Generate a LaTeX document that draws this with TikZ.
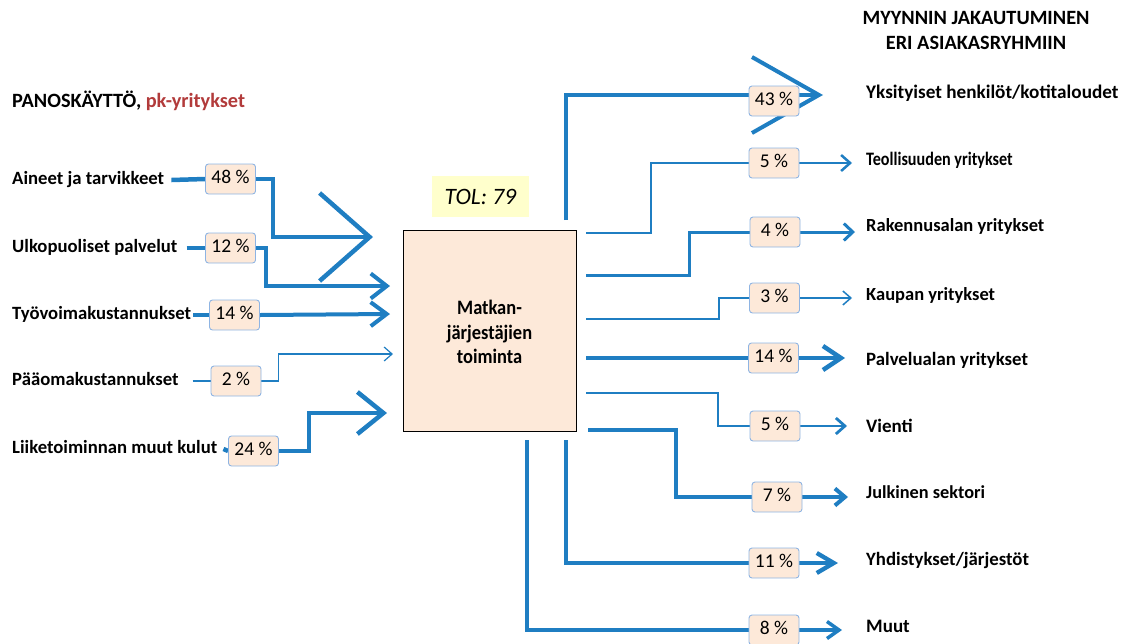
\documentclass[tikz,border=0pt]{standalone}
\usepackage{fontspec}
\usepackage{graphicx}
\setmainfont{Carlito}
\usetikzlibrary{arrows.meta}
\definecolor{flow}{HTML}{1F7EC2}
\definecolor{peach}{HTML}{FDE9D9}
\definecolor{pctedge}{HTML}{8EB4E3}
\definecolor{tolbg}{HTML}{FFFFCC}
\definecolor{redtxt}{HTML}{B23B3B}
\pgfdeclarelayer{bg}
\pgfsetlayers{bg,main}
\begin{document}
\begin{tikzpicture}[x=1pt,y=-1pt,
  lbl/.style={font=\fontsize{#1}{22}\selectfont\bfseries, anchor=west, inner xsep=0pt, text height=13pt, text depth=4pt},
  lbl/.default=18.7,
  pct/.style={draw=pctedge, line width=0.9pt, fill=peach, rounded corners=3pt, minimum width=50pt, minimum height=30pt, inner sep=0pt, font=\fontsize{19.5}{22}\selectfont, text height=13.5pt, text depth=4pt},
  fl/.style={draw=flow, line join=miter}]
\useasboundingbox (0,0) rectangle (1126,643);

% headings
\node[lbl=20.3] (h1) at (12,103) {PANOSKÄYTTÖ, \textcolor{redtxt}{pk-yritykset}};
\node[font=\fontsize{20.3}{25}\selectfont\bfseries, align=center] (h2) at (976,30.5) {MYYNNIN JAKAUTUMINEN\\ERI ASIAKASRYHMIIN};

% main box and TOL
\node[draw=black, line width=0.8pt, fill=peach, minimum width=173pt, minimum height=201pt, inner sep=0pt, font=\fontsize{20.5}{24.5}\selectfont\bfseries] (m) at (489.5,330.5) {\raisebox{-9pt}[0pt][0pt]{\scalebox{0.9}[1]{\begin{tabular}{@{}c@{}}Matkan-\\järjestäjien\\toiminta\end{tabular}}}};
\node[fill=tolbg, minimum width=97pt, minimum height=41pt, font=\fontsize{23.5}{26}\selectfont\itshape] (tol) at (480.5,196.5) {TOL: 79};

% left labels
\node[lbl] (a1) at (12,180) {Aineet ja tarvikkeet};
\node[lbl] (a2) at (12,248) {Ulkopuoliset palvelut};
\node[lbl] (a3) at (12,315) {Työvoimakustannukset};
\node[lbl] (a4) at (12,381) {Pääomakustannukset};
\node[lbl] (a5) at (12,449) {Liiketoiminnan muut kulut};

% left percentage boxes
\node[pct] (p1) at (230.5,179) {48 \%};
\node[pct] (p2) at (230.5,248) {12 \%};
\node[pct] (p3) at (234.5,315) {14 \%};
\node[pct] (p4) at (236,381) {2 \%};
\node[pct] (p5) at (253.5,451) {24 \%};

% left tips
\coordinate (t1) at (373,237);
\coordinate (t2) at (390,286);
\coordinate (t3) at (390,314);
\coordinate (t4) at (393,354);
\coordinate (t5) at (387,413);

% right labels
\node[lbl=19.2] (b1) at (866,94) {Yksityiset henkilöt/kotitaloudet};
\node[lbl=19] (b2) at (866,161) {\scalebox{0.85}[1]{Teollisuuden yritykset}};
\node[lbl=18.5] (b3) at (866,227) {Rakennusalan yritykset};
\node[lbl=18.5] (b4) at (866,296) {Kaupan yritykset};
\node[lbl=18.8] (b5) at (866,361) {Palvelualan yritykset};
\node[lbl=19] (b6) at (866,428) {Vienti};
\node[lbl=18.3] (b7) at (866,494) {Julkinen sektori};
\node[lbl=18.8] (b8) at (866,561) {Yhdistykset/järjestöt};
\node[lbl=19] (b9) at (866,628) {Muut};

% right percentage boxes
\node[pct] (q1) at (774,101) {43 \%};
\node[pct] (q2) at (774,163) {5 \%};
\node[pct] (q3) at (775,232) {4 \%};
\node[pct] (q4) at (774.5,298) {3 \%};
\node[pct] (q5) at (773.5,358) {14 \%};
\node[pct] (q6) at (775,426) {5 \%};
\node[pct] (q7) at (777,497) {7 \%};
\node[pct] (q8) at (774,563) {11 \%};
\node[pct] (q9) at (774,630) {8 \%};

% right start / tip coordinates
\coordinate (o1) at (566,220);  \coordinate (r1) at (823,95);
\coordinate (o2) at (586,233);  \coordinate (r2) at (852,163);
\coordinate (o3) at (586,275);  \coordinate (r3) at (855,232);
\coordinate (o4) at (586,319);  \coordinate (r4) at (852,298);
\coordinate (o5) at (586,358);  \coordinate (r5) at (845,358);
\coordinate (o6) at (586,393);  \coordinate (r6) at (847,426);
\coordinate (o7) at (588,430);  \coordinate (r7) at (848,497);
\coordinate (o8) at (566,440);  \coordinate (r8) at (838,563);
\coordinate (o9) at (527,440);  \coordinate (r9) at (842,630);

\begin{pgfonlayer}{bg}
% left connectors
\draw[fl, line width=4.5pt] ([xshift=7pt]a1.east) -- (p1.west);
\draw[fl, line width=4.5pt, -{Straight Barb[length=50pt,width=88pt]}] (p1.east) -- ++(17,0) |- (t1);
\draw[fl, line width=4pt] ([xshift=9pt]a2.east) -- (p2.west);
\draw[fl, line width=4pt, -{Straight Barb[length=16pt,width=25pt]}] (p2.east) -- ++(10,0) |- (t2);
\draw[fl, line width=4pt] ([xshift=2pt]a3.east) -- (p3.west);
\draw[fl, line width=4pt, -{Straight Barb[length=16pt,width=24pt]}] (p3.east) -- (t3);
\draw[fl, line width=1.2pt] ([xshift=14pt]a4.east) -- (p4.west);
\draw[fl, line width=1.2pt, -{Straight Barb[length=8pt,width=14pt]}] (p4.east) -- ++(17,0) |- (t4);
\draw[fl, line width=4.5pt] ([xshift=6pt]a5.east) -- (p5.west);
\draw[fl, line width=4.5pt, -{Straight Barb[length=26pt,width=42pt]}] (p5.east) -- ++(30,0) |- (t5);

% right connectors
\draw[fl, line width=4pt, -{Straight Barb[length=67pt,width=76pt]}] (o1) |- (r1);
\draw[fl, line width=2.5pt] (o2) -- ++(65,0) |- (q2.west);
\draw[fl, line width=2.5pt, -{Straight Barb[length=9pt,width=16pt]}] (q2.east) -- (r2);
\draw[fl, line width=3pt] (o3) -- ++(103,0) |- (q3.west);
\draw[fl, line width=3pt, -{Straight Barb[length=9pt,width=17pt]}] (q3.east) -- (r3);
\draw[fl, line width=1.5pt] (o4) -- ++(133,0) |- (q4.west);
\draw[fl, line width=1.5pt, -{Straight Barb[length=8pt,width=14pt]}] (q4.east) -- (r4);
\draw[fl, line width=4.5pt] (o5) -- (q5.west);
\draw[fl, line width=4.5pt, -{Straight Barb[length=18pt,width=24pt]}] (q5.east) -- (r5);
\draw[fl, line width=2.8pt] (o6) -- ++(132,0) |- (q6.west);
\draw[fl, line width=2.8pt, -{Straight Barb[length=9pt,width=16pt]}] (q6.east) -- (r6);
\draw[fl, line width=4pt] (o7) -- ++(88,0) |- (q7.west);
\draw[fl, line width=4pt, -{Straight Barb[length=10pt,width=17pt]}] (q7.east) -- (r7);
\draw[fl, line width=4.3pt] (o8) |- (q8.west);
\draw[fl, line width=4.3pt, -{Straight Barb[length=17pt,width=20pt]}] (q8.east) -- (r8);
\draw[fl, line width=3.5pt] (o9) |- (q9.west);
\draw[fl, line width=3.5pt, -{Straight Barb[length=12pt,width=17pt]}] (q9.east) -- (r9);
\end{pgfonlayer}
\end{tikzpicture}
\end{document}
